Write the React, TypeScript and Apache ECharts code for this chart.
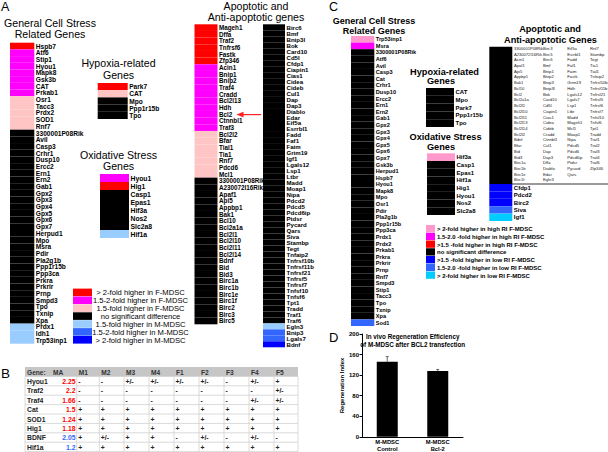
import React, { useEffect, useRef } from 'react';
import * as echarts from 'echarts';

const FONT = '"Liberation Sans", Arial, Helvetica, sans-serif';

// ---------- Panel A data (level codes: F2 >2-fold F, F15 1.5-2-fold F, F1 1.5-fold F, NS, M1, M15, M2) ----------
const aGeneral: [string, string[]][] = [
  ['F2', ['Hspb7']],
  ['F15', ['Atf6', 'Stip1', 'Hyou1', 'Mapk8', 'Gsk3b', 'CAT', 'Prkab1']],
  ['F1', ['Osr1', 'Tacc3', 'Prdx2', 'SOD1', 'Rnf7']],
  ['NS', ['3300001P08Rik', 'Avil', 'Casp3', 'Crhr1', 'Dusp10', 'Ercc2', 'Ern1', 'Ern2', 'Gab1', 'Gpx2', 'Gpx3', 'Gpx4', 'Gpx5', 'Gpx6', 'Gpx7', 'Herpud1', 'Mpo', 'Msra', 'Pdir', 'Pla2g1b', 'Ppp1r15b', 'Ppp3ca', 'Prkra', 'Prkrir', 'Prnp', 'Smpd3', 'Tpo', 'Txnip', 'Xpa']],
  ['M1', ['Prdx1', 'Idh1', 'Trp53inp1']],
];
const aHypoxia: [string, string[]][] = [
  ['F2', ['Park7']],
  ['F1', ['CAT']],
  ['NS', ['Mpo', 'Ppp1r15b', 'Tpo']],
];
const aOxidative: [string, string[]][] = [
  ['F15', ['Hyou1']],
  ['F2', ['Hig1']],
  ['NS', ['Casp1', 'Epas1', 'Hif3a', 'Nos2', 'Slc2a8']],
  ['M1', ['Hif1a']],
];
const aApoptotic1: [string, string[]][] = [
  ['F2', ['Mageh1', 'Dffa', 'Traf2', 'Tnfrsf6', 'Fastk', 'Zfp346']],
  ['F15', ['Acin1', 'Bnip1', 'Bnip2', 'Traf4', 'Cradd', 'Bcl2l13', 'Hdh', 'Bcl2', 'Ctnnbl1', 'Traf3']],
  ['F1', ['Bcl2l2', 'Bfar', 'Tial1', 'Tia1', 'Rnf7', 'Pdcd6', 'Mcl1']],
  ['NS', ['3300001P08Rik', 'A230072I16Rik', 'Apaf1', 'Api5', 'Appbp1', 'Bak1', 'Bcl10', 'Bcl2a1a', 'Bcl2l1', 'Bcl2l10', 'Bcl2l11', 'Bcl2l14', 'Bdnf', 'Bid', 'Bid3', 'Birc1a', 'Birc1b', 'Birc1e', 'Birc1f', 'Birc2', 'Birc3', 'Birc5']],
];
const aApoptotic2: [string, string[]][] = [
  ['NS', ['Birc6', 'Bmf', 'Bnip3l', 'Bok', 'Card10', 'Cd5l', 'Cfdp1', 'Ciapin1', 'Cias1', 'Cidea', 'Cideb', 'Cul1', 'Dap', 'Dap3', 'Diablo', 'Edar', 'Eif5a', 'Esrrbl1', 'Fadd', 'Faf1', 'Faim', 'Grim19', 'Igf1', 'Lgals12', 'Lsp1', 'Ltbr', 'Madd', 'Moap1', 'Nipa', 'Pdcd2', 'Pdcd5', 'Pdcd6ip', 'Ptdsr', 'Pycard', 'Qars', 'Siva', 'Stambp', 'Tegt', 'Tnfaip2', 'Tnfrsf10b', 'Tnfrsf11b', 'Tnfrsf21', 'Tnfrsf5', 'Tnfrsf7', 'Tnfsf10', 'Tnfsf6', 'Tpt1', 'Tradd', 'Traf1', 'Traf6']],
  ['M1', ['Egln3']],
  ['M15', ['Bnip3', 'Lgals7']],
  ['M2', ['Bdnf']],
];
const aLegendLevels = ['F2', 'F15', 'F1', 'NS', 'M1', 'M15', 'M2'];
const aLegendLabels = ['> 2-fold higher in F-MDSC', '1.5-2-fold higher in F-MDSC', '1.5-fold higher in F-MDSC', 'no significant difference', '1.5-fold higher in M-MDSC', '1.5-2-fold higher in M-MDSC', '> 2-fold higher in M-MDSC'];

// ---------- Panel B data ----------
const tableGenes = ['Hyou1', 'Traf2', 'Traf4', 'Cat', 'SOD1', 'Hig1', 'BDNF', 'Hif1a'];
const tableMA = [2.25, 2.2, 1.66, 1.5, 1.24, 1.18, 2.05, 1.2];
const tableMAHigherIn = ['F', 'F', 'F', 'F', 'F', 'F', 'M', 'M'];
const tableSamples = ['M1', 'M2', 'M3', 'M4', 'F1', 'F2', 'F3', 'F4', 'F5'];
const tableCalls = [
  ['-', '-', '+/-', '+/-', '+/-', '+/-', '-', '+/-', '+'],
  ['-', '-', '-', '-', '-', '-', '-', '-', '+/-'],
  ['-', '-', '-', '-', '-', '-', '-', '+/-', '+/-'],
  ['+', '+', '+', '+', '+', '+', '+', '+', '+'],
  ['+', '+', '+', '+', '+', '+', '+', '+', '+'],
  ['+', '+', '+', '+', '+', '+', '+', '+', '+'],
  ['+', '+/-', '+', '+', '-', '+/-', '-', '+/-', '-'],
  ['+', '+', '+', '+', '+', '+', '+', '+', '+'],
];

// ---------- Panel C data (levels: H2, H15, H1 higher in high RI; NS; L1, L15, L2 higher in low RI) ----------
const cGeneral: [string, string[]][] = [
  ['H2', ['Trp53inp1']],
  ['H15', ['Msra']],
  ['NS', ['3300001P08Rik', 'Atf6', 'Avil', 'Casp3', 'Cat', 'Crhr1', 'Dusp10', 'Ercc2', 'Ern1', 'Ern2', 'Gab1', 'Gpx2', 'Gpx3', 'Gpx4', 'Gpx5', 'Gpx6', 'Gpx7', 'Gsk3b', 'Herpud1', 'Hspb7', 'Hyou1', 'Mapk8', 'Mpo', 'Osr1', 'Pdir', 'Pla2g1b', 'Ppp1r15b', 'Ppp3ca', 'Prdx1', 'Prdx2', 'Prkab1', 'Prkra', 'Prkrir', 'Prnp', 'Rnf7', 'Smpd3', 'Stip1', 'Tacc3', 'Tpo', 'Txnip', 'Xpa']],
  ['L15', ['Sod1']],
];
const cHypoxia: [string, string[]][] = [
  ['NS', ['CAT', 'Mpo', 'Park7', 'Ppp1r15b', 'Tpo']],
];
const cOxidative: [string, string[]][] = [
  ['H2', ['Hif3a']],
  ['NS', ['Casp1', 'Epas1', 'Hif1a', 'Hig1', 'Hyou1', 'Nos2', 'Slc2a8']],
];
const cApoptoticUnchanged: [string, string[]][] = [['NS', ['']]];
const cApoptoticChanged: [string, string[]][] = [
  ['L1', ['Cfdp1', 'Pdcd2', 'Birc2']],
  ['L15', ['Siva']],
  ['L2', ['Igf1']],
];
const cApopList1 = ['3300001P08Rik', 'A230072I16Rik', 'Acin1', 'Apaf1', 'Api5', 'Appbp1', 'Bak1', 'Bcl10', 'Bcl2', 'Bcl2a1a', 'Bcl2l1', 'Bcl2l10', 'Bcl2l11', 'Bcl2l13', 'Bcl2l14', 'Bcl2l2', 'Bdnf', 'Bfar', 'Bid', 'Bid3', 'Birc1a', 'Birc1b', 'Birc1e', 'Birc1f'];
const cApopList2 = ['Birc3', 'Birc5', 'Birc6', 'Bmf', 'Bnip1', 'Bnip2', 'Bnip3', 'Bnip3l', 'Bok', 'Card10', 'Cd5l', 'Ciapin1', 'Cias1', 'Cidea', 'Cideb', 'Cradd', 'Ctnnbl1', 'Cul1', 'Dap', 'Dap3', 'Dffa', 'Diablo', 'Edar', 'Egln3'];
const cApopList3 = ['Eif5a', 'Esrrbl1', 'Fadd', 'Faf1', 'Faim', 'Fastk', 'Grim19', 'Hdh', 'Lgals12', 'Lgals7', 'Lsp1', 'Ltbr', 'Madd', 'Mageh1', 'Mcl1', 'Moap1', 'Nipa', 'Pdcd5', 'Pdcd6', 'Pdcd6ip', 'Ptdsr', 'Pycard', 'Qars'];
const cApopList4 = ['Rnf7', 'Stambp', 'Tegt', 'Tia1', 'Tial1', 'Tnfaip2', 'Tnfrsf10b', 'Tnfrsf11b', 'Tnfrsf21', 'Tnfrsf5', 'Tnfrsf6', 'Tnfrsf7', 'Tnfsf10', 'Tnfsf6', 'Tpt1', 'Tradd', 'Traf1', 'Traf2', 'Traf3', 'Traf4', 'Traf6', 'Zfp346'];
const cLegendLevels = ['H2', 'H15', 'H1', 'NS', 'L1', 'L15', 'L2'];
const cLegendLabels = ['> 2-fold higher in high RI F-MDSC', '1.5-2.0 -fold higher in high RI F-MDSC', '>1.5 -fold higher in high RI F-MDSC', 'no significant difference', '>1.5 -fold higher in low RI F-MDSC', '1.5-2.0 -fold higher in low RI F-MDSC', '> 2-fold higher in low RI F-MDSC'];

// ---------- Panel D data ----------
const dCategories = ['M-MDSC\nControl', 'M-MDSC\nBcl-2'];
const dMeans = [146, 128];
const dErrors = [10, 3];

// ---------- styles ----------
const aPalette: Record<string, string> = {
  F2: '#ff0000', F15: '#ff00ff', F1: '#ffc4c4', NS: '#000000', M1: '#99ccff', M15: '#3366ff', M2: '#0000ff',
};
const cPalette: Record<string, string> = {
  H2: '#ff99cc', H15: '#ff00ff', H1: '#ff0000', NS: '#000000', L1: '#0000ff', L15: '#3366ff', L2: '#00ccff',
};

function txt(text: string, x: number, y: number, size: number, o: any = {}) {
  const align = o.align || 'left';
  const va = o.va || 'middle';
  return {
    type: 'text', x, y, silent: true, z: 10,
    style: {
      text, fontSize: size, fontFamily: FONT, fontWeight: o.bold ? 'bold' : 'normal',
      fill: o.color || '#000', align, verticalAlign: va, textAlign: align, textVerticalAlign: va,
      lineHeight: o.lineHeight,
    },
  };
}

export default function App() {
  const ref = useRef<HTMLDivElement>(null);
  useEffect(() => {
    if (!ref.current) return;
    const chart = echarts.init(ref.current, null, { renderer: 'svg' });

    const grids: any[] = [];
    const xAxes: any[] = [];
    const yAxes: any[] = [];
    const series: any[] = [];

    const addColumn = (groups: [string, string[]][], palette: Record<string, string>, box: number[], labelSize: number, showLabels = true) => {
      const idx = grids.length;
      const names: string[] = [];
      const colors: string[] = [];
      groups.forEach(([lvl, genes]) => genes.forEach((g) => { names.push(g); colors.push(palette[lvl]); }));
      grids.push({ left: box[0], top: box[1], width: box[2], height: box[3] });
      xAxes.push({ gridIndex: idx, type: 'value', min: 0, max: 1, show: false });
      yAxes.push({
        gridIndex: idx, type: 'category', inverse: true, data: names, position: 'right',
        axisLine: { show: false }, axisTick: { show: false }, splitLine: { show: false },
        axisLabel: { show: showLabels, interval: 0, fontSize: labelSize, fontWeight: 'bold', color: '#000', margin: 1.5, fontFamily: FONT },
      });
      series.push({
        type: 'bar', xAxisIndex: idx, yAxisIndex: idx, barWidth: '100%', silent: true,
        data: colors.map((c) => ({ value: 1, itemStyle: { color: c } })),
      });
    };

    // Panel A columns
    addColumn(aGeneral, aPalette, [10, 42.7, 24.3, 301], 6.6);
    addColumn(aHypoxia, aPalette, [97.7, 83, 30, 36], 6.6);
    addColumn(aOxidative, aPalette, [100, 174, 29, 64], 6.8);
    addColumn(aApoptotic1, aPalette, [194.5, 24.3, 23, 300], 6.3);
    addColumn(aApoptotic2, aPalette, [263, 24.3, 22, 323], 6.1);
    // Panel C columns
    addColumn(cGeneral, cPalette, [351, 36, 23.3, 290], 5.6);
    addColumn(cHypoxia, cPalette, [426, 88, 28, 39], 6);
    addColumn(cOxidative, cPalette, [427, 153.3, 28, 61.7], 6);
    addColumn(cApoptoticUnchanged, cPalette, [489.3, 46.7, 23, 137.3], 6, false);
    addColumn(cApoptoticChanged, cPalette, [489.3, 184, 23, 37], 6);

    // Panel D
    const dIdx = grids.length;
    grids.push({ left: 362, top: 334, width: 101, height: 105.3 });
    xAxes.push({
      gridIndex: dIdx, type: 'category', data: dCategories,
      axisLine: { lineStyle: { color: '#000', width: 1 } }, axisTick: { show: false },
      axisLabel: { interval: 0, fontSize: 5.8, fontWeight: 'bold', color: '#000', margin: 2, lineHeight: 6.6, fontFamily: FONT },
    });
    yAxes.push({
      gridIndex: dIdx, type: 'value', min: 0, max: 200, interval: 40,
      name: 'Regeneration Index', nameLocation: 'middle', nameGap: 15,
      nameTextStyle: { fontSize: 6, fontWeight: 'bold', color: '#000', fontFamily: FONT },
      axisLine: { show: true, lineStyle: { color: '#000', width: 1 } },
      axisTick: { show: true, length: 2.5, lineStyle: { color: '#000' } },
      splitLine: { show: false },
      axisLabel: { fontSize: 6, fontWeight: 'bold', color: '#000', margin: 3, fontFamily: FONT },
    });
    series.push({
      type: 'bar', xAxisIndex: dIdx, yAxisIndex: dIdx, data: dMeans, barWidth: 21,
      itemStyle: { color: '#000' }, silent: true,
    });
    series.push({
      type: 'custom', xAxisIndex: dIdx, yAxisIndex: dIdx, silent: true, z: 5,
      data: dMeans.map((m, i) => [i, m, m + dErrors[i]]),
      encode: { x: 0, y: [1, 2] },
      renderItem: (params: any, api: any) => {
        const base = api.coord([api.value(0), api.value(1)]);
        const top = api.coord([api.value(0), api.value(2)]);
        return {
          type: 'group',
          children: [
            { type: 'line', shape: { x1: base[0], y1: base[1], x2: top[0], y2: top[1] }, style: { stroke: '#444', lineWidth: 0.8 } },
            { type: 'line', shape: { x1: top[0] - 1.5, y1: top[1], x2: top[0] + 1.5, y2: top[1] }, style: { stroke: '#444', lineWidth: 0.8 } },
          ],
        };
      },
    });

    // ---------- graphic elements ----------
    const g: any[] = [];
    // panel letters
    g.push(txt('A', 1, 7, 12.5));
    g.push(txt('B', 1, 373, 13.5));
    g.push(txt('C', 329, 7, 12.5));
    g.push(txt('D', 329, 337, 13));

    // Panel A titles
    g.push(txt('General Cell Stress', 50, 23.1, 10.6, { align: 'center' }));
    g.push(txt('Related Genes', 50, 33.8, 10.6, { align: 'center' }));
    g.push(txt('Hypoxia-related', 118.5, 62.8, 10.6, { align: 'center' }));
    g.push(txt('Genes', 118.5, 74.6, 10.6, { align: 'center' }));
    g.push(txt('Oxidative Stress', 118.5, 154.8, 10.6, { align: 'center' }));
    g.push(txt('Genes', 118.5, 166.4, 10.6, { align: 'center' }));
    g.push(txt('Apoptotic and', 256, 6, 10.6, { align: 'center' }));
    g.push(txt('Anti-apoptotic genes', 256, 17, 10.6, { align: 'center' }));

    // red arrow pointing at Bcl2
    g.push({ type: 'line', silent: true, shape: { x1: 261, y1: 114.6, x2: 241, y2: 114.6 }, style: { stroke: '#ff2020', lineWidth: 1.2 } });
    g.push({ type: 'polygon', silent: true, shape: { points: [[236.5, 114.6], [243.5, 111.8], [243.5, 117.4]] }, style: { fill: '#ff2020' } });

    // Panel A legend
    aLegendLevels.forEach((lvl, i) => {
      g.push({ type: 'rect', silent: true, shape: { x: 73, y: 288.6 + i * 7.9, width: 19, height: 7.6 }, style: { fill: aPalette[lvl] } });
      g.push(txt(aLegendLabels[i], 140.5, 292.6 + i * 7.9, 7.6, { align: 'center' }));
    });

    // Panel B table
    const tLeft = 25, tRight = 298, tTop = 367, headH = 9.4, rowH = 9.4;
    const colLines = [76.7, 99.3, 124, 149, 174, 199, 224, 249, 274, 298];
    const tBottom = tTop + headH + tableGenes.length * rowH;
    g.push({ type: 'rect', silent: true, shape: { x: tLeft, y: tTop, width: tRight - tLeft, height: headH }, style: { fill: '#c6c6c6' } });
    for (let r = 0; r <= tableGenes.length; r++) {
      const y = tTop + headH + r * rowH;
      g.push({ type: 'line', silent: true, shape: { x1: tLeft, y1: y, x2: tRight, y2: y }, style: { stroke: '#d0d0d0', lineWidth: 0.8 } });
    }
    g.push({ type: 'line', silent: true, shape: { x1: tLeft, y1: tTop + headH, x2: tLeft, y2: tBottom }, style: { stroke: '#d0d0d0', lineWidth: 0.8 } });
    colLines.forEach((x) => {
      g.push({ type: 'line', silent: true, shape: { x1: x, y1: tTop + headH, x2: x, y2: tBottom }, style: { stroke: '#d0d0d0', lineWidth: 0.8 } });
    });
    g.push(txt('Gene:', 27, tTop + headH / 2 + 0.3, 6.6, { bold: true, color: '#333' }));
    g.push(txt('MA', 53, tTop + headH / 2 + 0.3, 6.6, { bold: true, color: '#333' }));
    tableSamples.forEach((s, k) => g.push(txt(s, colLines[k] + 2, tTop + headH / 2 + 0.3, 6.6, { bold: true, color: '#333' })));
    tableGenes.forEach((gene, r) => {
      const y = tTop + headH + r * rowH + rowH / 2 + 0.3;
      g.push(txt(gene, 27, y, 6.8, { bold: true, color: '#222' }));
      g.push(txt(String(tableMA[r]), 75.5, y, 6.8, { bold: true, align: 'right', color: tableMAHigherIn[r] === 'F' ? '#ff0000' : '#3366ff' }));
      tableCalls[r].forEach((c, k) => g.push(txt(c, colLines[k] + 1.5, y, 6.8, { bold: true, color: '#222' })));
    });

    // Panel C titles
    g.push(txt('General Cell Stress', 374, 21.4, 9, { align: 'center', bold: true }));
    g.push(txt('Related Genes', 374, 30.8, 9, { align: 'center', bold: true }));
    g.push(txt('Hypoxia-related', 444.5, 71.5, 9.2, { align: 'center', bold: true }));
    g.push(txt('Genes', 441, 81.2, 9.2, { align: 'center', bold: true }));
    g.push(txt('Oxidative Stress', 445.5, 137.1, 9.2, { align: 'center', bold: true }));
    g.push(txt('Genes', 441, 146.8, 9.2, { align: 'center', bold: true }));
    g.push(txt('Apoptotic and', 550, 29.1, 9.2, { align: 'center', bold: true }));
    g.push(txt('Anti-apoptotic Genes', 550.5, 39.5, 9.2, { align: 'center', bold: true }));

    // Panel C list of unchanged apoptotic genes
    const listX = [514, 543, 567.3, 590];
    [cApopList1, cApopList2, cApopList3, cApopList4].forEach((list, k) => {
      g.push({
        type: 'text', x: listX[k], y: 45.5, silent: true,
        style: { text: list.join('\n'), fontSize: k === 0 ? 4.1 : 4.2, lineHeight: 5.72, fontFamily: FONT, fill: '#222', align: 'left', verticalAlign: 'top', textAlign: 'left', textVerticalAlign: 'top' },
      });
    });
    g.push({ type: 'line', silent: true, shape: { x1: 512, y1: 184, x2: 608, y2: 184 }, style: { stroke: '#000', lineWidth: 0.8 } });

    // Panel C legend
    cLegendLevels.forEach((lvl, i) => {
      g.push({ type: 'rect', silent: true, shape: { x: 426, y: 225 + i * 7.75, width: 9, height: 7.3 }, style: { fill: cPalette[lvl] } });
      g.push(txt(cLegendLabels[i], 437, 229 + i * 7.75, 6, { bold: true }));
    });

    // Panel D title
    g.push(txt('In vivo Regeneration Efficiency', 412.7, 336.3, 6.3, { align: 'center', bold: true }));
    g.push(txt('of M-MDSC after BCL2 transfection', 412.7, 344.2, 6.3, { align: 'center', bold: true }));

    chart.setOption({
      animation: false,
      backgroundColor: '#ffffff',
      textStyle: { fontFamily: FONT },
      grid: grids,
      xAxis: xAxes,
      yAxis: yAxes,
      series,
      graphic: { elements: g },
    });
    return () => chart.dispose();
  }, []);

  return <div ref={ref} style={{ position: 'absolute', left: 0, top: 0, width: 608, height: 452, background: '#fff' }} />;
}
